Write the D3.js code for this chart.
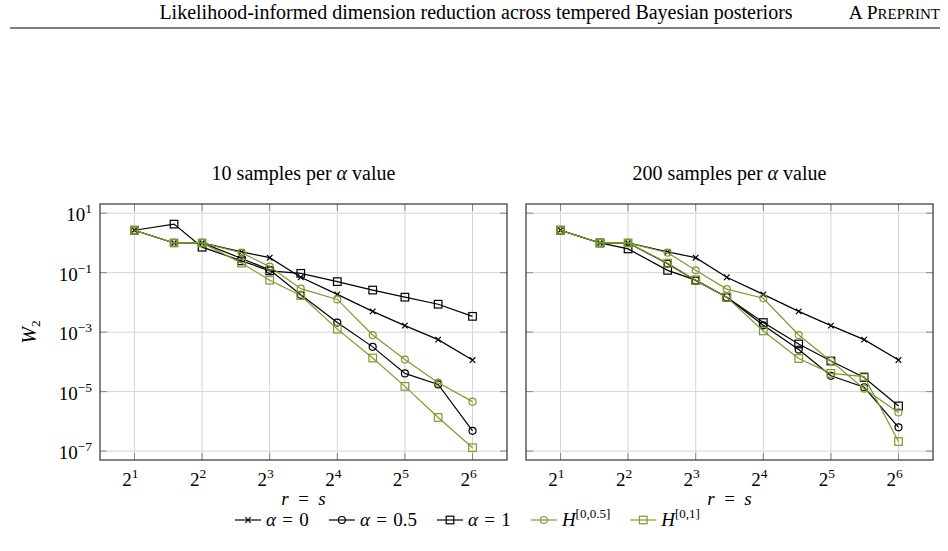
<!DOCTYPE html>
<html>
<head>
<meta charset="utf-8">
<script src="https://cdn.jsdelivr.net/npm/d3@7"></script>
<style>
  body { margin: 0; background: #fff; }
</style>
</head>
<body>
<script>
// r = s values (x axis)
const rs = [2, 3, 4, 6, 8, 11, 16, 23, 32, 45, 64];

// 10 samples per alpha value
const a0Left  = [2.68, 1.0, 1.0, 0.5, 0.32, 0.07, 0.0186, 0.005, 0.00166, 5.6e-4, 1.15e-4];
const a05Left = [2.68, 1.0, 1.0, 0.3, 0.125, 0.018, 0.0021, 3.2e-4, 4.1e-5, 1.75e-5, 4.8e-7];
const a1Left  = [2.68, 4.3, 0.72, 0.25, 0.115, 0.095, 0.05, 0.026, 0.015, 0.0087, 0.0034];
const h05Left = [2.68, 1.0, 1.0, 0.47, 0.16, 0.029, 0.0126, 8e-4, 1.2e-4, 2e-5, 4.6e-6];
const h01Left = [2.68, 1.0, 1.0, 0.21, 0.056, 0.017, 0.00126, 1.35e-4, 1.5e-5, 1.35e-6, 1.3e-7];

// 200 samples per alpha value
const a0Right  = [2.68, 1.0, 1.0, 0.5, 0.32, 0.07, 0.0186, 0.005, 0.00166, 5.6e-4, 1.15e-4];
const a05Right = [2.68, 1.0, 1.0, 0.2, 0.055, 0.015, 0.0017, 2.6e-4, 3.4e-5, 1.4e-5, 6.3e-7];
const a1Right  = [2.68, 1.0, 0.63, 0.12, 0.056, 0.015, 0.0021, 4e-4, 1.07e-4, 3e-5, 3.3e-6];
const h05Right = [2.68, 1.0, 1.0, 0.47, 0.12, 0.028, 0.0138, 8e-4, 1.07e-4, 1.25e-5, 2e-6];
const h01Right = [2.68, 1.0, 1.0, 0.21, 0.056, 0.015, 0.0011, 1.3e-4, 4.1e-5, 3.2e-5, 2.1e-7];

const xTickExp = [1, 2, 3, 4, 5, 6];
const yTickExp = [1, -1, -3, -5, -7];
const titles = ["10 samples per ", "200 samples per "];

const green = "#7d9a2d";
const series = [
  {key: "a0",  mark: "cross",  color: "#000"},
  {key: "a05", mark: "circle", color: "#000"},
  {key: "a1",  mark: "square", color: "#000"},
  {key: "h05", mark: "circle", color: green},
  {key: "h01", mark: "square", color: green}
];
const panels = [
  {left: 100, data: {a0: a0Left, a05: a05Left, a1: a1Left, h05: h05Left, h01: h01Left}},
  {left: 526, data: {a0: a0Right, a05: a05Right, a1: a1Right, h05: h05Right, h01: h01Right}}
];

const W = 948, H = 551;
const pw = 407, plotTop = 204, ph = 256;

const svg = d3.select("body").append("svg").attr("width", W).attr("height", H)
  .style("display", "block").attr("font-family", "Liberation Serif");

// page header
svg.append("text").attr("x", 476).attr("y", 19).attr("text-anchor", "middle")
  .attr("font-size", 20).text("Likelihood-informed dimension reduction across tempered Bayesian posteriors");
const pp = svg.append("text").attr("x", 940).attr("y", 19).attr("text-anchor", "end").attr("font-size", 19.5);
pp.append("tspan").text("A P");
pp.append("tspan").attr("font-size", 15).text("REPRINT");
svg.append("line").attr("x1", 10).attr("x2", 940).attr("y1", 28).attr("y2", 28)
  .attr("stroke", "#000").attr("stroke-width", 1);

const yScale = d3.scaleLog().domain([Math.pow(10, 1.31), Math.pow(10, -7.3)]).range([plotTop, plotTop + ph]);

function drawMark(g, type, x, y, color) {
  if (type === "circle") {
    g.append("circle").attr("cx", x).attr("cy", y).attr("r", 3.5)
      .attr("fill", "none").attr("stroke", color).attr("stroke-width", 1.2);
  } else if (type === "square") {
    g.append("rect").attr("x", x - 3.8).attr("y", y - 3.8).attr("width", 7.6).attr("height", 7.6)
      .attr("fill", "none").attr("stroke", color).attr("stroke-width", 1.2);
  } else {
    const s = 2.8;
    g.append("path").attr("d", `M${x - s},${y - s}L${x + s},${y + s}M${x - s},${y + s}L${x + s},${y - s}`)
      .attr("stroke", color).attr("stroke-width", 1.2);
  }
}

function supLabel(g, x, y, base, exp, anchor) {
  const t = g.append("text").attr("x", x).attr("y", y).attr("text-anchor", anchor).attr("font-size", 19);
  t.append("tspan").text(base);
  t.append("tspan").attr("dy", -8).attr("font-size", 13.5).text(exp);
  return t;
}

panels.forEach((p, i) => {
  const x = d3.scaleLog().base(2).domain([Math.pow(2, 0.49), Math.pow(2, 6.51)]).range([p.left, p.left + pw]);
  const g = svg.append("g");

  // grid
  xTickExp.forEach(e => {
    const xv = x(Math.pow(2, e));
    g.append("line").attr("x1", xv).attr("x2", xv).attr("y1", plotTop).attr("y2", plotTop + ph)
      .attr("stroke", "#d4d4d4").attr("stroke-width", 1);
  });
  yTickExp.forEach(e => {
    const yv = yScale(Math.pow(10, e));
    g.append("line").attr("x1", p.left).attr("x2", p.left + pw).attr("y1", yv).attr("y2", yv)
      .attr("stroke", "#d4d4d4").attr("stroke-width", 1);
  });
  // tick marks (inside, on all sides)
  xTickExp.forEach(e => {
    const xv = x(Math.pow(2, e));
    g.append("line").attr("x1", xv).attr("x2", xv).attr("y1", plotTop + ph).attr("y2", plotTop + ph - 7).attr("stroke", "#888");
    g.append("line").attr("x1", xv).attr("x2", xv).attr("y1", plotTop).attr("y2", plotTop + 7).attr("stroke", "#888");
  });
  yTickExp.forEach(e => {
    const yv = yScale(Math.pow(10, e));
    g.append("line").attr("x1", p.left).attr("x2", p.left + 7).attr("y1", yv).attr("y2", yv).attr("stroke", "#888");
    g.append("line").attr("x1", p.left + pw).attr("x2", p.left + pw - 7).attr("y1", yv).attr("y2", yv).attr("stroke", "#888");
  });

  // series
  series.forEach(s => {
    const vals = p.data[s.key];
    const line = d3.line().x((d, j) => x(rs[j])).y(d => yScale(d));
    g.append("path").datum(vals).attr("d", line).attr("fill", "none")
      .attr("stroke", s.color).attr("stroke-width", 1.2);
    vals.forEach((v, j) => drawMark(g, s.mark, x(rs[j]), yScale(v), s.color));
  });

  // frame
  g.append("rect").attr("x", p.left).attr("y", plotTop).attr("width", pw).attr("height", ph)
    .attr("fill", "none").attr("stroke", "#333").attr("stroke-width", 1.2);

  // x tick labels
  xTickExp.forEach(e => supLabel(g, x(Math.pow(2, e)) - 4, 486, "2", e, "middle"));
  if (i === 0) {
    yTickExp.forEach(e => {
      supLabel(g, 92, yScale(Math.pow(10, e)) + 8, "10", e < 0 ? "\u2212" + (-e) : e, "end");
    });
  }

  // x label
  const xl = g.append("text").attr("x", p.left + pw / 2).attr("y", 505).attr("text-anchor", "middle").attr("font-size", 19);
  xl.append("tspan").attr("font-style", "italic").text("r");
  xl.append("tspan").text("\u2002=\u2002");
  xl.append("tspan").attr("font-style", "italic").text("s");

  // title
  const tt = g.append("text").attr("x", p.left + pw / 2).attr("y", 180).attr("text-anchor", "middle").attr("font-size", 20);
  tt.append("tspan").text(titles[i]);
  tt.append("tspan").attr("font-style", "italic").text("\u03b1");
  tt.append("tspan").text(" value");
});

// y axis label
const yl = svg.append("text").attr("transform", "translate(36,332) rotate(-90)")
  .attr("text-anchor", "middle").attr("font-size", 20);
yl.append("tspan").attr("font-style", "italic").text("W");
yl.append("tspan").attr("font-size", 13.5).attr("dy", 4).text("2");

// legend
const legendItems = [
  {mark: "cross",  color: "#000", label: [["\u03b1", true], ["\u2004=\u20040", false]]},
  {mark: "circle", color: "#000", label: [["\u03b1", true], ["\u2004=\u20040.5", false]]},
  {mark: "square", color: "#000", label: [["\u03b1", true], ["\u2004=\u20041", false]]},
  {mark: "circle", color: green,  label: [["H", true]], sup: "[0,0.5]"},
  {mark: "square", color: green,  label: [["H", true]], sup: "[0,1]"}
];
const lg = svg.append("g");
let lx = 235;
const ly = 520;
legendItems.forEach(it => {
  lg.append("line").attr("x1", lx).attr("x2", lx + 26).attr("y1", ly).attr("y2", ly)
    .attr("stroke", it.color).attr("stroke-width", 1.2);
  drawMark(lg, it.mark, lx + 13, ly, it.color);
  const t = lg.append("text").attr("x", lx + 31).attr("y", ly + 6).attr("font-size", 19);
  it.label.forEach(([s, ital]) => t.append("tspan").attr("font-style", ital ? "italic" : null).text(s));
  if (it.sup) t.append("tspan").attr("dy", -8).attr("font-size", 13).text(it.sup);
  lx += 31 + t.node().getComputedTextLength() + 20;
});
</script>
</body>
</html>
